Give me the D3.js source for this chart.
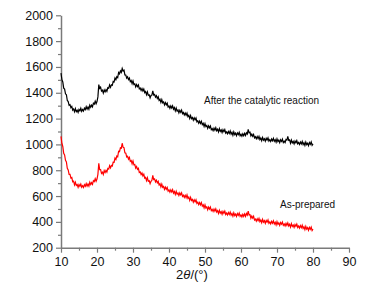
<!DOCTYPE html>
<html>
<head>
<meta charset="utf-8">
<script src="https://cdn.jsdelivr.net/npm/d3@7"></script>
<style>
  body { margin: 0; background: #fff; }
  svg { display: block; font-family: "Liberation Sans", Arial, sans-serif; }
</style>
</head>
<body>
<div id="chart"></div>
<script>
// 2theta sampling grid (degrees)
var angles = [
  10,10.25,10.5,10.75, 11,11.25,11.5,11.75, 12,12.25,12.5,12.75, 13,13.25,13.5,13.75, 14,14.25,14.5,14.75,
  15,15.25,15.5,15.75, 16,16.25,16.5,16.75, 17,17.25,17.5,17.75, 18,18.25,18.5,18.75, 19,19.25,19.5,19.75,
  20,20.25,20.5,20.75, 21,21.25,21.5,21.75, 22,22.25,22.5,22.75, 23,23.25,23.5,23.75, 24,24.25,24.5,24.75,
  25,25.25,25.5,25.75, 26,26.25,26.5,26.75, 27,27.25,27.5,27.75, 28,28.25,28.5,28.75, 29,29.25,29.5,29.75,
  30,30.25,30.5,30.75, 31,31.25,31.5,31.75, 32,32.25,32.5,32.75, 33,33.25,33.5,33.75, 34,34.25,34.5,34.75,
  35,35.25,35.5,35.75, 36,36.25,36.5,36.75, 37,37.25,37.5,37.75, 38,38.25,38.5,38.75, 39,39.25,39.5,39.75,
  40,40.25,40.5,40.75, 41,41.25,41.5,41.75, 42,42.25,42.5,42.75, 43,43.25,43.5,43.75, 44,44.25,44.5,44.75,
  45,45.25,45.5,45.75, 46,46.25,46.5,46.75, 47,47.25,47.5,47.75, 48,48.25,48.5,48.75, 49,49.25,49.5,49.75,
  50,50.25,50.5,50.75, 51,51.25,51.5,51.75, 52,52.25,52.5,52.75, 53,53.25,53.5,53.75, 54,54.25,54.5,54.75,
  55,55.25,55.5,55.75, 56,56.25,56.5,56.75, 57,57.25,57.5,57.75, 58,58.25,58.5,58.75, 59,59.25,59.5,59.75,
  60,60.25,60.5,60.75, 61,61.25,61.5,61.75, 62,62.25,62.5,62.75, 63,63.25,63.5,63.75, 64,64.25,64.5,64.75,
  65,65.25,65.5,65.75, 66,66.25,66.5,66.75, 67,67.25,67.5,67.75, 68,68.25,68.5,68.75, 69,69.25,69.5,69.75,
  70,70.25,70.5,70.75, 71,71.25,71.5,71.75, 72,72.25,72.5,72.75, 73,73.25,73.5,73.75, 74,74.25,74.5,74.75,
  75,75.25,75.5,75.75, 76,76.25,76.5,76.75, 77,77.25,77.5,77.75, 78,78.25,78.5,78.75, 79,79.25,79.5,79.75,
  80];

// intensity after the catalytic reaction
var afterReaction = [
  1552,1502,1484,1436, 1429,1392,1385,1340, 1332,1303,1308,1284, 1294,1266,1275,1253, 1277,1254,1264,1247,
  1271,1260,1280,1256, 1270,1258,1280,1269, 1292,1273,1290,1273, 1304,1288,1304,1291, 1319,1312,1335,1315,
  1332,1368,1463,1434, 1444,1413,1420,1397, 1422,1407,1424,1411, 1439,1435,1460,1442, 1462,1458,1488,1484,
  1514,1501,1525,1517, 1557,1547,1569,1558, 1589,1569,1575,1538, 1537,1513,1523,1502, 1514,1486,1495,1470,
  1492,1464,1469,1446, 1464,1447,1460,1430, 1437,1418,1433,1414, 1429,1401,1410,1385, 1407,1380,1384,1361,
  1379,1382,1415,1382, 1387,1366,1378,1356, 1369,1341,1350,1325, 1347,1322,1329,1306, 1324,1307,1320,1290,
  1297,1280,1298,1282, 1299,1273,1285,1260, 1282,1258,1266,1244, 1264,1249,1265,1238, 1247,1228,1243,1226,
  1242,1215,1225,1201, 1224,1200,1209,1187, 1206,1191,1205,1175, 1182,1164,1180,1162, 1179,1153,1163,1139,
  1162,1138,1146,1124, 1144,1129,1143,1114, 1122,1107,1126,1110, 1129,1105,1117,1096, 1122,1101,1112,1092,
  1114,1099,1115,1088, 1097,1082,1100,1085, 1104,1080,1093,1071, 1097,1076,1087,1068, 1089,1076,1093,1067,
  1078,1063,1082,1067, 1086,1069,1090,1080, 1117,1090,1094,1066, 1079,1063,1077,1050, 1060,1044,1061,1044,
  1062,1037,1050,1029, 1054,1033,1044,1025, 1047,1034,1051,1026, 1037,1023,1042,1028, 1047,1024,1037,1017,
  1043,1022,1033,1014, 1036,1023,1040,1014, 1025,1014,1038,1034, 1062,1031,1035,1009, 1034,1012,1023,1004,
  1026,1013,1030,1004, 1015,1000,1019,1004, 1023,999,1013,992, 1018,998,1009,991, 1014,1001,1019,993,
  1004];

// intensity of the as-prepared sample
var asPrepared = [
  1062,1007,984,931, 919,877,865,815, 802,768,768,739, 744,711,715,687, 707,682,689,668,
  689,676,693,668, 680,667,688,676, 697,677,693,677, 707,690,704,691, 719,712,735,715,
  732,768,853,804, 804,776,785,767, 797,782,799,786, 814,809,835,818, 837,833,863,862,
  894,883,910,905, 947,944,974,971, 1009,977,975,935, 932,903,908,886, 899,869,875,850,
  872,842,844,816, 829,807,815,782, 787,766,778,756, 769,739,745,720, 742,714,719,696,
  714,722,760,728, 732,710,723,702, 714,686,695,670, 692,667,674,651, 669,653,667,638,
  647,630,648,632, 649,623,635,613, 637,614,624,604, 624,609,625,598, 607,590,606,588,
  609,582,592,567, 590,566,574,552, 571,556,571,543, 552,534,550,532, 549,522,532,508,
  532,508,516,494, 514,499,515,487, 497,481,499,483, 501,476,487,465, 490,468,479,459,
  481,467,484,457, 468,453,472,457, 476,452,465,444, 470,449,460,442, 464,451,468,443,
  454,439,458,443, 462,443,465,453, 484,454,456,428, 445,429,443,414, 422,406,424,409,
  427,402,415,394, 420,398,409,389, 411,398,415,389, 400,385,404,389, 408,384,397,376,
  402,381,392,373, 395,382,399,373, 384,369,388,373, 392,368,381,360, 386,365,376,357,
  379,366,383,357, 368,352,371,355, 374,349,362,340, 366,344,355,335, 357,343,360,333,
  344];

var xTicks = [10,20,30,40,50,60,70,80,90];
var xMinor = [15,25,35,45,55,65,75,85];
var yTicks = [200,400,600,800,1000,1200,1400,1600,1800,2000];
var yMinor = [300,500,700,900,1100,1300,1500,1700,1900];

var labelAfter = "After the catalytic reaction";
var labelAs = "As-prepared";

(function () {
    const width = 376, height = 290;
    const plotLeft = 61, plotRight = 349, plotTop = 15.3, plotBottom = 247.7;
    const axisColor = "#7a7a7a";

    var x = d3.scaleLinear().domain([10, 90]).range([plotLeft, plotRight]);
    var y = d3.scaleLinear().domain([200, 2000]).range([plotBottom, plotTop]);

    var svg = d3.select('#chart').append('svg')
        .attr('width', width)
        .attr('height', height);

    // minor ticks first (no labels)
    svg.append('g')
        .attr('transform', `translate(0,${plotBottom})`)
        .call(d3.axisBottom(x).tickValues(xMinor).tickSize(3).tickFormat(''))
        .call(g => g.select('.domain').remove());
    svg.append('g')
        .attr('transform', `translate(${plotLeft},0)`)
        .call(d3.axisLeft(y).tickValues(yMinor).tickSize(3).tickFormat(''))
        .call(g => g.select('.domain').remove());

    svg.append('g')
        .attr('transform', `translate(0,${plotBottom})`)
        .call(d3.axisBottom(x).tickValues(xTicks).tickSize(5).tickSizeOuter(0)
            .tickPadding(4).tickFormat(d3.format('d')));

    svg.append('g')
        .attr('transform', `translate(${plotLeft},0)`)
        .call(d3.axisLeft(y).tickValues(yTicks).tickSize(5).tickSizeOuter(0)
            .tickPadding(3).tickFormat(d3.format('d')));

    svg.selectAll('.tick line').attr('stroke', axisColor).attr('stroke-width', 1.2);
    svg.selectAll('.domain').attr('stroke', axisColor).attr('stroke-width', 1.5);
    svg.selectAll('.tick text')
        .attr('fill', '#111')
        .style('font-size', '12.5px')
        .style('font-family', '"Liberation Sans", Arial, sans-serif');

    // x title: 2θ/(°)
    var title = svg.append('text')
        .attr('x', 192)
        .attr('y', 279)
        .attr('text-anchor', 'middle')
        .style('font-size', '13px')
        .attr('fill', '#111');
    title.append('tspan').text('2');
    title.append('tspan').style('font-style', 'italic').text('θ');
    title.append('tspan').text('/(°)');

    var line = d3.line()
        .x(function (d, i) { return x(angles[i]); })
        .y(function (d) { return y(d); });

    svg.append('path')
        .datum(afterReaction)
        .attr('fill', 'none')
        .attr('stroke', '#000')
        .attr('stroke-width', 1.2)
        .attr('d', line);

    svg.append('path')
        .datum(asPrepared)
        .attr('fill', 'none')
        .attr('stroke', '#ff0000')
        .attr('stroke-width', 1.2)
        .attr('d', line);

    // curve labels
    svg.append('text')
        .attr('x', 204)
        .attr('y', 104)
        .style('font-size', '10px')
        .attr('fill', '#111')
        .text(labelAfter);

    svg.append('text')
        .attr('x', 280)
        .attr('y', 208)
        .style('font-size', '10px')
        .attr('fill', '#111')
        .text(labelAs);
})();
</script>
</body>
</html>
